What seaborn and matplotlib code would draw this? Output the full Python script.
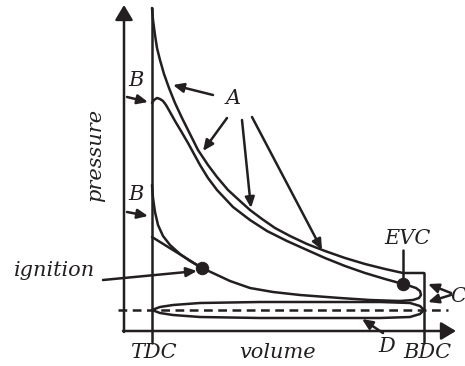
import matplotlib
matplotlib.use("Agg")
import matplotlib.pyplot as plt
import seaborn as sns

# schematic p-V diagram (volume to the right, pressure upward)
outer_v = [152, 153, 155, 157, 160, 164, 169, 175, 182, 190, 198, 208, 217, 228, 240, 250, 262, 275,
           290, 307, 325, 345, 365, 385, 403, 424]
outer_p = [8, 20, 35, 48, 60, 74, 88, 103, 118, 134, 150, 165, 177, 190, 201, 210, 219, 228,
           236, 244, 251, 258, 264, 269, 273, 273]

inner_v = [152, 154, 157, 160, 163, 166, 170, 175, 181, 188, 194, 200, 208, 217, 233, 250, 267, 287,
           307, 325, 345, 365, 385, 403, 410, 416, 420, 421, 419, 413, 400]
inner_p = [103, 100, 98, 99, 101, 105, 112, 121, 131, 143, 154, 165, 178, 190, 207, 220, 231, 241,
           250, 258, 266, 273, 279, 284, 286, 288, 291, 295, 298, 300, 301]

comp_v = [400, 370, 340, 300, 273, 250, 230, 215, 202, 190, 180, 170, 163, 158, 155, 153, 152]
comp_p = [301, 300, 298, 295, 292, 288, 281, 274, 268, 261, 254, 245, 236, 225, 212, 198, 185]

ign_v = [152, 202]
ign_p = [237, 268]

pump_v = [152, 160, 173, 200, 260, 300, 380, 410, 420, 424, 420, 410, 380, 300, 260, 200, 173, 160, 152]
pump_p = [310, 307, 305, 303, 302, 302, 302, 303, 306, 310, 314, 317, 318, 318, 318, 317, 315, 313, 310]

tdc_v, bdc_v = 152, 424
atm_p = 310
marks_v = [202, 403]
marks_p = [268, 284]

ink = "#231f20"
sns.set_style("white")
fig = plt.figure(figsize=(4.65, 3.66), dpi=100)
ax = fig.add_axes([0, 0, 1, 1])
ax.set_xlim(0, 465)
ax.set_ylim(366, 0)
ax.axis("off")

lw = 1.8
for v, p in [(outer_v, outer_p), (inner_v, inner_p), (comp_v, comp_p), (ign_v, ign_p), (pump_v, pump_p)]:
    sns.lineplot(x=v, y=p, sort=False, estimator=None, color=ink, lw=lw, ax=ax)

# TDC / BDC lines, atmospheric line, EVC tick
ax.plot([tdc_v, tdc_v], [8, 343], color=ink, lw=lw)
ax.plot([bdc_v, bdc_v], [273, 343], color=ink, lw=lw)
ax.plot([118, 448], [atm_p, atm_p], color=ink, lw=lw, ls=(0, (3.5, 2.2)))
ax.plot([403, 403], [250, 280], color=ink, lw=lw)

sns.scatterplot(x=marks_v, y=marks_p, color=ink, s=80, edgecolor=ink, zorder=5, ax=ax)

# axes with arrow heads
big = dict(arrowstyle="-|>,head_length=0.45,head_width=0.27", color=ink, lw=lw,
           mutation_scale=20, shrinkA=0, shrinkB=0)
ax.annotate("", xy=(124, 5), xytext=(124, 332), arrowprops=big)
ax.annotate("", xy=(456, 331), xytext=(123, 331), arrowprops=big)

small = dict(arrowstyle="-|>,head_length=0.45,head_width=0.2", color=ink, lw=lw,
             mutation_scale=14, shrinkA=0, shrinkB=0)
arrows = [((213, 95), (173, 85)), ((227, 118), (203, 151)), ((242, 120), (251, 208)),
          ((252, 117), (322, 250)), ((127, 97), (148, 102)), ((127, 212), (148, 216)),
          ((103, 280), (197, 271)), ((451, 293), (428, 284)), ((451, 295), (428, 302)),
          ((383, 333), (362, 319))]
for tail, head in arrows:
    ax.annotate("", xy=head, xytext=tail, arrowprops=small)

font = dict(family="DejaVu Serif", style="italic", fontsize=15, color=ink, ha="center", va="center")
ax.text(96, 155, "pressure", rotation=90, **font)
ax.text(278, 352, "volume", **font)
ax.text(153, 353, "TDC", **font)
ax.text(427, 353, "BDC", **font)
ax.text(387, 347, "D", **font)
ax.text(407, 238, "EVC", **font)
ax.text(55, 271, "ignition", **font)
ax.text(233, 98, "A", **font)
ax.text(136, 80, "B", **font)
ax.text(136, 195, "B", **font)
ax.text(458, 296, "C", **font)

fig.savefig("out.png", dpi=100)
